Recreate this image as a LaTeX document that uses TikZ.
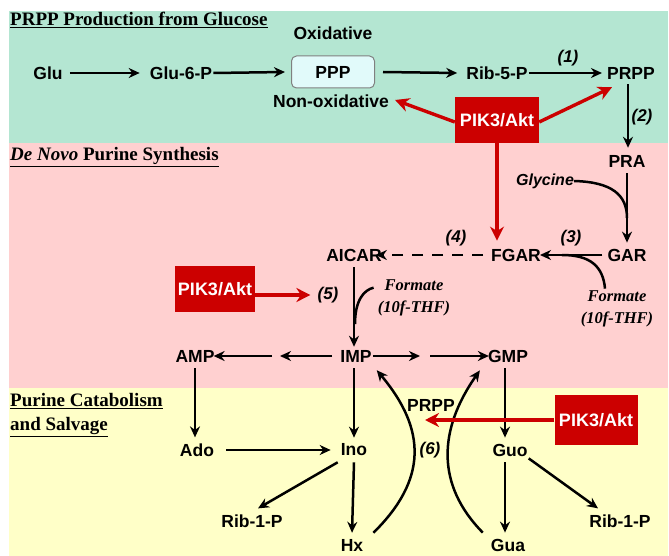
\documentclass[tikz,border=0pt]{standalone}
\usepackage{fontspec}
\setmainfont{Liberation Sans}
\newfontfamily\serifface{Liberation Serif}
\usetikzlibrary{arrows.meta}
\definecolor{bggreen}{RGB}{180,230,210}
\definecolor{bgpink}{RGB}{255,208,208}
\definecolor{bgyellow}{RGB}{255,255,200}
\definecolor{akt}{RGB}{204,0,0}
\definecolor{pppfill}{RGB}{225,250,250}
\begin{document}
\begin{tikzpicture}[x=1pt,y=-1pt,
 lbl/.style={font=\fontsize{17.5}{20}\selectfont\bfseries, inner sep=0pt},
 num/.style={font=\fontsize{17}{19}\selectfont\bfseries\itshape, inner sep=0pt},
 sect/.style={font=\fontsize{19}{22}\selectfont\serifface\bfseries, inner sep=0pt, anchor=west},
 frm/.style={font=\fontsize{16.5}{22}\selectfont\serifface\bfseries\itshape, inner sep=0pt, align=center},
 gly/.style={font=\fontsize{16}{18}\selectfont\bfseries\itshape, inner sep=0pt},
 aktbox/.style={fill=akt, text=white, font=\fontsize{18}{20}\selectfont\bfseries, inner sep=0pt, minimum width=84pt, minimum height=46pt},
 arr/.style={line width=2.5pt, -{Stealth[length=11pt,width=10pt]}},
 joinline/.style={line width=2.5pt},
 redarr/.style={draw=akt, line width=3.4pt, -{Stealth[length=14pt,width=14pt]}},
 ]
\useasboundingbox (0,0) rectangle (669,556);
\fill[white] (0,0) rectangle (669,556);
\fill[bggreen] (9,11) rectangle (668,143);
\fill[bgpink] (9,143) rectangle (668,388);
\fill[bgyellow] (9,388) rectangle (668,556);

% section titles
\node[sect] (t1) at (10,20) {\underline{PRPP Production from Glucose}};
\node[sect] (t2) at (10,157) {\underline{\itshape De Novo\upshape{} Purine Synthesis}};
\node[sect] (t3) at (10,401) {\underline{Purine Catabolism}};
\node[sect] (t4) at (10,427) {\underline{and Salvage}};

% top band
\node[lbl] (oxi) at (333,33) {Oxidative};
\node[lbl] (glu) at (48,73) {Glu};
\node[lbl] (glu6) at (181,73) {Glu-6-P};
\node[draw=gray, line width=1pt, fill=pppfill, rounded corners=5pt, minimum width=83pt, minimum height=32pt, font=\fontsize{17.5}{20}\selectfont\bfseries] (ppp) at (333,72) {PPP};
\node[lbl] (rib5) at (497,73) {Rib-5-P};
\node[lbl] (prpp) at (631,73) {PRPP};
\node[lbl] (nonox) at (331,101) {Non-oxidative};
\node[aktbox] (akt1) at (497,120) {PIK3/Akt};
\node[num] (n1) at (568,58) {(1)};
\node[num] (n2) at (642,117) {(2)};

\draw[arr] ([xshift=7pt]glu.east) -- ([xshift=-10pt]glu6.west);
\draw[arr] ([xshift=1pt]glu6.east) -- ([xshift=-6pt]ppp.west);
\draw[arr] ([xshift=8pt]ppp.east) -- ([xshift=-9pt]rib5.west);
\draw[arr] ([xshift=1pt]rib5.east) -- ([xshift=-5pt]prpp.west);

% de novo
\node[lbl] (pra) at (627,161) {PRA};
\node[gly] (glyc) at (545,181) {Glycine};
\node[lbl] (gar) at (627,255) {GAR};
\node[lbl] (fgar) at (516,255) {FGAR};
\node[lbl] (aicar) at (354,255) {AICAR};
\node[num] (n3) at (571,238) {(3)};
\node[num] (n4) at (456,238) {(4)};
\node[frm] (form1) at (617,309) {Formate\\(10f-THF)};
\node[aktbox, minimum width=80pt, minimum height=46pt] (akt2) at (215,289) {PIK3/Akt};
\node[num] (n5) at (328,295) {(5)};
\node[frm] (form2) at (414,298) {Formate\\(10f-THF)};

\draw[arr] ([xshift=-3pt,yshift=-5pt]prpp.south) -- ([xshift=1pt,yshift=7pt]pra.north);
\draw[arr] ([yshift=-6pt]pra.south) -- ([yshift=6pt]gar.north);
\draw[joinline] (glyc.east) .. controls (612,182) and (627,195) .. (627,218);
\draw[arr] ([xshift=-5pt]gar.west) -- ([xshift=-1pt]fgar.east);
\draw[joinline] ([xshift=-12pt,yshift=2pt]form1.north) .. controls (603,266) and (590,255) .. (562,255);
\draw[arr, dash pattern=on 11pt off 9pt] ([xshift=-8pt]fgar.west) -- ([xshift=-6pt]aicar.east);
\draw[redarr] (akt2.east |- n5.west) -- ([xshift=-7pt]n5.west);

% catabolism
\node[lbl] (amp) at (195,356) {AMP};
\node[lbl] (imp) at (356,356) {IMP};
\node[lbl] (gmp) at (508,356) {GMP};
\draw[arr] ([yshift=-6pt]aicar.south) -- ([yshift=3pt]imp.north -| aicar.south);
\draw[joinline] ([xshift=-4pt,yshift=-8pt]form2.north west) .. controls (364,290) and (355,300) .. (355,324);

\coordinate (ampm) at (276,356);
\coordinate (gmpm) at (425,356);
\draw[arr] ([xshift=-8pt]imp.west) -- ([xshift=4pt]ampm);
\draw[arr] ([xshift=-4pt]ampm) -- ([xshift=-1pt]amp.east);
\draw[arr] ([xshift=1pt]imp.east) -- ([xshift=-5pt]gmpm);
\draw[arr] ([xshift=5pt]gmpm) -- ([xshift=1pt]gmp.west);

\node[lbl] (prpp2) at (431,405) {PRPP};
\node[aktbox, minimum width=83pt, minimum height=50pt] (akt3) at (596,420) {PIK3/Akt};
\node[lbl] (ado) at (197,450) {Ado};
\node[lbl] (ino) at (354,450) {Ino};
\node[lbl] (guo) at (510,450) {Guo};
\node[num] (n6) at (430,450) {(6)};
\node[lbl] (rib1a) at (252,521) {Rib-1-P};
\node[lbl] (rib1b) at (620,521) {Rib-1-P};
\node[lbl] (hx) at (352,545) {Hx};
\node[lbl] (gua) at (508,545) {Gua};

\draw[arr] ([yshift=-6pt]amp.south) -- ([yshift=6pt]ado.north -| amp.south);
\draw[arr] ([yshift=-6pt]imp.south -| ino.south) -- ([yshift=6pt]ino.north);
\draw[arr] ([xshift=-3pt,yshift=-6pt]gmp.south) -- ([xshift=-5pt,yshift=6pt]guo.north);
\draw[arr] ([xshift=12pt]ado.east) -- ([xshift=-10pt]ino.west);
\draw[arr] ([xshift=-3pt,yshift=-6pt]ino.south west) -- ([xshift=6pt,yshift=6pt]rib1a.north);
\draw[arr] ([yshift=-6pt]ino.south) -- ([yshift=6pt]hx.north);
\draw[arr] ([xshift=-5pt,yshift=-6pt]guo.south) -- ([xshift=-3pt,yshift=6pt]gua.north);
\draw[arr] ([xshift=1pt,yshift=-2pt]guo.south east) -- ([xshift=-22pt,yshift=6pt]rib1b.north);
\draw[arr] ([xshift=10pt,yshift=6pt]hx.north east) .. controls (427,480) and (427,430) .. ([xshift=5pt,yshift=-8pt]imp.south east);
\draw[arr] ([xshift=-8pt,yshift=6pt]gua.north west) .. controls (436,485) and (438,430) .. ([xshift=-8pt,yshift=-8pt]gmp.south west);
\draw[redarr] (akt3.west) -- ([xshift=-6pt]prpp2.center |- akt3.west);

% red arrows top
\draw[redarr] ([yshift=-2pt]akt1.west) -- ([xshift=6pt,yshift=1pt]nonox.east);
\draw[redarr] ([yshift=-2pt]akt1.east) -- ([xshift=-19pt,yshift=-8pt]prpp.south);
\draw[redarr] (akt1.south) -- ([yshift=8pt]fgar.north -| akt1.south);
\end{tikzpicture}
\end{document}
